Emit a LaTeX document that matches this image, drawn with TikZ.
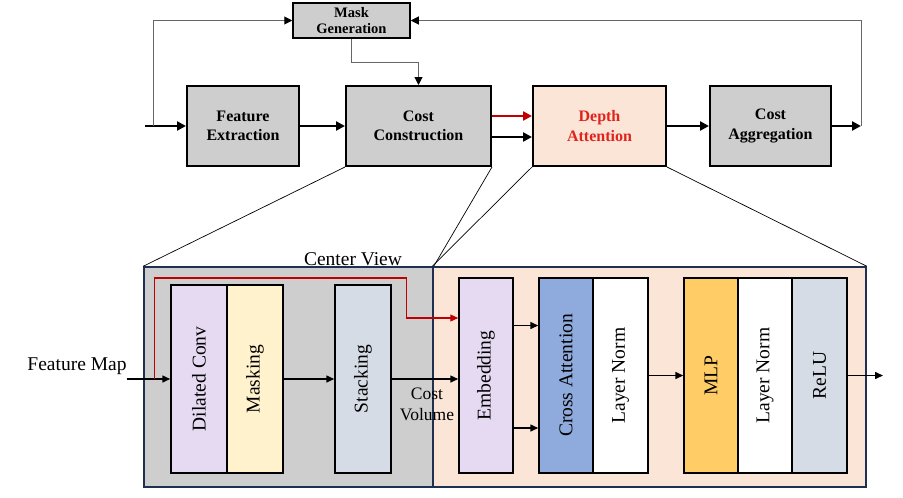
\documentclass[tikz,border=0pt]{standalone}
\usepackage{fontspec}
\setmainfont{Liberation Serif}
\usepackage{tikz}
\usetikzlibrary{arrows.meta, calc}
\definecolor{boxgray}{RGB}{207,206,206}
\definecolor{peach}{RGB}{251,229,214}
\definecolor{lavender}{RGB}{230,218,242}
\definecolor{cream}{RGB}{255,242,204}
\definecolor{bluegray}{RGB}{214,220,229}
\definecolor{attblue}{RGB}{143,170,220}
\definecolor{mlpgold}{RGB}{255,204,102}
\definecolor{navy}{RGB}{32,48,80}
\definecolor{darkred}{RGB}{192,0,0}
\definecolor{datext}{RGB}{225,35,30}
\tikzset{topbox/.style={draw, line width=2pt, fill=boxgray, minimum height=80pt,
    align=center, font=\fontsize{16}{19.5}\selectfont\bfseries}}
\tikzset{layer/.style={draw, line width=1.5pt, minimum width=55pt, minimum height=195pt,
    font=\fontsize{19.5}{23}\selectfont}}
\tikzset{frame/.style={draw=navy, line width=1.5pt}}
\tikzset{thickarrow/.style={-{Triangle[length=9pt, width=9pt]}, line width=2.5pt}}
\tikzset{thinarrow/.style={-{Triangle[length=8pt, width=7pt]}, line width=1.5pt}}
\tikzset{looparrow/.style={-{Triangle[length=8pt, width=8pt, color=black]}, draw=black!60, line width=1pt}}
\tikzset{zoomline/.style={-, line width=0.7pt}}

\begin{document}
\begin{tikzpicture}[x=1pt, y=-1pt]
  \useasboundingbox (0,0) rectangle (903,498);
  % top row
  \node[topbox, minimum width=112pt] (fe) at (243,126) {Feature\\Extraction};
  \node[topbox, minimum width=145pt] (cc) at (418.5,126) {Cost\\Construction};
  \node[topbox, minimum width=133pt, fill=peach, text=datext] (da) at (599.5,126) {Depth\\Attention};
  \node[topbox, minimum width=121pt] (ca) at (770.5,126) {Cost\\Aggregation};
  \node[topbox, minimum width=117pt, minimum height=35pt, line width=1.5pt,
    font=\fontsize{14.5}{16}\selectfont\bfseries] (mg) at (351.5,20.5) {Mask\\Generation};
  \coordinate (in) at (145,126);
  \coordinate (split) at (153,126);
  \coordinate (out) at (861,126);
  \draw[thickarrow] (in) -- (fe);
  \draw[thickarrow] (fe) -- (cc);
  \draw[thickarrow, draw=darkred] ([yshift=10pt]cc.east) -- ([yshift=10pt]da.west);
  \draw[thickarrow] ([yshift=-11pt]cc.east) -- ([yshift=-11pt]da.west);
  \draw[thickarrow] (da) -- (ca);
  \draw[thickarrow] (ca) -- (out);
  \draw[looparrow] (split) |- (mg.west);
  \draw[looparrow] (out) |- (mg.east);
  \draw[looparrow] (mg.south) -- ++(0,24) -| (cc.north);

  % bottom frames
  \node[frame, fill=boxgray, minimum width=289pt, minimum height=220pt] (cv) at (288.5,377) {};
  \node[frame, fill=peach, minimum width=433pt, minimum height=220pt] (dab) at (649.5,377) {};
  \draw[zoomline] (cc.south west) -- (cv.north west);
  \draw[zoomline] (cc.south east) -- (cv.north east);
  \draw[zoomline] (da.south west) -- (dab.north west);
  \draw[zoomline] (da.south east) -- (dab.north east);
  \node[font=\fontsize{19.5}{23}\selectfont] (cvlabel) at (353,259) {Center View};

  % layers
  \node[layer, fill=lavender, minimum width=56pt, minimum height=188pt] (dc) at (199,379) {\rotatebox{90}{Dilated Conv}};
  \node[layer, fill=cream, minimum width=56pt, minimum height=188pt] (mk) at (255,379) {\rotatebox{90}{Masking}};
  \node[layer, fill=bluegray, minimum width=56pt, minimum height=188pt] (st) at (363,379) {\rotatebox{90}{Stacking}};
  \node[layer, fill=lavender, minimum width=54pt] (emb) at (486,375.5) {\rotatebox{90}{Embedding}};
  \node[layer, fill=attblue, minimum width=54pt] (att) at (566,375.5) {\rotatebox{90}{Cross Attention}};
  \node[layer, fill=white] (lna) at (620.5,375.5) {\rotatebox{90}{Layer Norm}};
  \node[layer, fill=mlpgold, minimum width=54pt] (mlp) at (711,375.5) {\rotatebox{90}{MLP}};
  \node[layer, fill=white, minimum width=54pt] (lnb) at (765,375.5) {\rotatebox{90}{Layer Norm}};
  \node[layer, fill=bluegray] (relu) at (819.5,375.5) {\rotatebox{90}{ReLU}};

  \node[font=\fontsize{19.5}{23}\selectfont, inner sep=0pt] (fm) at (77,366) {Feature Map};
  \node[font=\fontsize{17.5}{21}\selectfont, align=center] (vol) at (427,404) {Cost\\Volume};
  \coordinate (fout) at (883,375.5);

  \draw[thinarrow] (fm.east |- dc.west) -- (dc.west);
  \draw[thinarrow, draw=darkred, line width=1.2pt] ([xshift=-16pt]dc.west) -- ++(0,-101)
    -- ++(252,0) |- ([yshift=57.5pt]emb.west);
  \draw[thinarrow] (mk.east) -- (st.west);
  \draw[thinarrow] (st.east) -- (st.east -| emb.west);
  \draw[thinarrow] ([yshift=50pt]emb.east) -- ([yshift=50pt]att.west);
  \draw[thinarrow] ([yshift=-52.5pt]emb.east) -- ([yshift=-52.5pt]att.west);
  \draw[thinarrow] (lna.east) -- (mlp.west);
  \draw[thinarrow] (relu.east) -- (fout);
\end{tikzpicture}
\end{document}
